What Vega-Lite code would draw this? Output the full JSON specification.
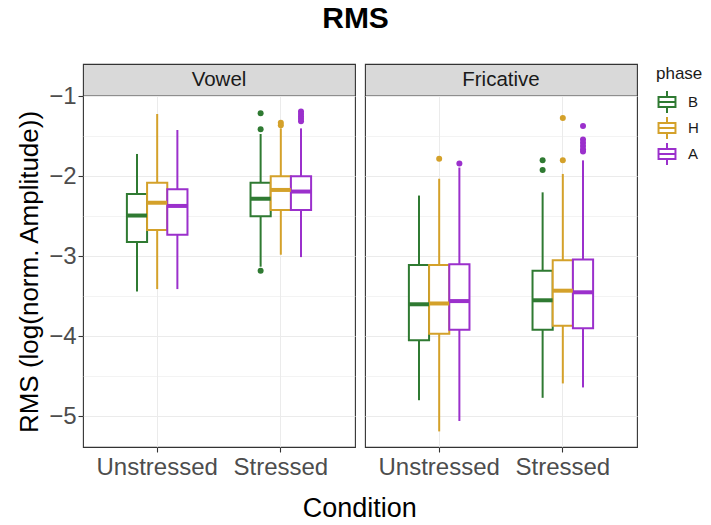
{
  "$schema": "https://vega.github.io/schema/vega-lite/v6.json",
  "background": "white",
  "padding": {"left": 16, "top": 4, "right": 0, "bottom": 5},
  "datasets": {
    "stats": [
      {"panel": "Vowel", "cond": "Unstressed", "phase": "B", "lower": -3.44, "q1": -2.82, "median": -2.49, "q3": -2.22, "upper": -1.72},
      {"panel": "Vowel", "cond": "Unstressed", "phase": "H", "lower": -3.41, "q1": -2.67, "median": -2.33, "q3": -2.08, "upper": -1.22},
      {"panel": "Vowel", "cond": "Unstressed", "phase": "A", "lower": -3.41, "q1": -2.73, "median": -2.37, "q3": -2.16, "upper": -1.42},
      {"panel": "Vowel", "cond": "Stressed", "phase": "B", "lower": -3.13, "q1": -2.50, "median": -2.28, "q3": -2.08, "upper": -1.47},
      {"panel": "Vowel", "cond": "Stressed", "phase": "H", "lower": -2.98, "q1": -2.42, "median": -2.17, "q3": -2.00, "upper": -1.40},
      {"panel": "Vowel", "cond": "Stressed", "phase": "A", "lower": -3.01, "q1": -2.42, "median": -2.19, "q3": -2.00, "upper": -1.40},
      {"panel": "Fricative", "cond": "Unstressed", "phase": "B", "lower": -4.80, "q1": -4.05, "median": -3.60, "q3": -3.11, "upper": -2.24},
      {"panel": "Fricative", "cond": "Unstressed", "phase": "H", "lower": -5.19, "q1": -3.97, "median": -3.59, "q3": -3.11, "upper": -2.03},
      {"panel": "Fricative", "cond": "Unstressed", "phase": "A", "lower": -5.06, "q1": -3.92, "median": -3.56, "q3": -3.10, "upper": -1.89},
      {"panel": "Fricative", "cond": "Stressed", "phase": "B", "lower": -4.77, "q1": -3.92, "median": -3.55, "q3": -3.18, "upper": -2.20},
      {"panel": "Fricative", "cond": "Stressed", "phase": "H", "lower": -4.59, "q1": -3.87, "median": -3.43, "q3": -3.05, "upper": -1.97},
      {"panel": "Fricative", "cond": "Stressed", "phase": "A", "lower": -4.64, "q1": -3.90, "median": -3.45, "q3": -3.04, "upper": -1.80}
    ],
    "outliers": [
      {"panel": "Vowel", "cond": "Stressed", "phase": "B", "value": -1.21},
      {"panel": "Vowel", "cond": "Stressed", "phase": "B", "value": -1.41},
      {"panel": "Vowel", "cond": "Stressed", "phase": "B", "value": -3.18},
      {"panel": "Vowel", "cond": "Stressed", "phase": "H", "value": -1.33},
      {"panel": "Vowel", "cond": "Stressed", "phase": "H", "value": -1.36},
      {"panel": "Vowel", "cond": "Stressed", "phase": "A", "value": -1.19},
      {"panel": "Vowel", "cond": "Stressed", "phase": "A", "value": -1.22},
      {"panel": "Vowel", "cond": "Stressed", "phase": "A", "value": -1.25},
      {"panel": "Vowel", "cond": "Stressed", "phase": "A", "value": -1.28},
      {"panel": "Vowel", "cond": "Stressed", "phase": "A", "value": -1.31},
      {"panel": "Fricative", "cond": "Unstressed", "phase": "H", "value": -1.78},
      {"panel": "Fricative", "cond": "Unstressed", "phase": "A", "value": -1.84},
      {"panel": "Fricative", "cond": "Stressed", "phase": "B", "value": -1.80},
      {"panel": "Fricative", "cond": "Stressed", "phase": "B", "value": -1.92},
      {"panel": "Fricative", "cond": "Stressed", "phase": "H", "value": -1.27},
      {"panel": "Fricative", "cond": "Stressed", "phase": "H", "value": -1.80},
      {"panel": "Fricative", "cond": "Stressed", "phase": "A", "value": -1.37},
      {"panel": "Fricative", "cond": "Stressed", "phase": "A", "value": -1.54},
      {"panel": "Fricative", "cond": "Stressed", "phase": "A", "value": -1.58},
      {"panel": "Fricative", "cond": "Stressed", "phase": "A", "value": -1.62},
      {"panel": "Fricative", "cond": "Stressed", "phase": "A", "value": -1.66},
      {"panel": "Fricative", "cond": "Stressed", "phase": "A", "value": -1.69}
    ]
  },
  "title": {"text": "RMS", "fontSize": 30, "fontWeight": "bold", "color": "black", "anchor": "middle", "offset": 29, "dx": -5},
  "vconcat": [
    {
      "title": {"text": "Condition", "orient": "bottom", "fontSize": 27, "fontWeight": "normal", "color": "black", "anchor": "middle", "offset": 16, "dx": 33},
      "spacing": 8,
      "hconcat": [
        {
          "spacing": 0,
          "bounds": "flush",
          "vconcat": [
            {
              "width": 272, "height": 32,
              "view": {"fill": "#D9D9D9", "stroke": "#333333", "strokeWidth": 1.1},
              "data": {"values": [{"panel": "Vowel"}]},
              "mark": {"type": "text", "fontSize": 20.5, "color": "#1A1A1A", "baseline": "middle", "align": "center"},
              "encoding": {"text": {"field": "panel"}}
            },
            {
              "width": 272, "height": 351,
              "encoding": {
                "x": {"field": "cond", "type": "nominal", "sort": ["Unstressed", "Stressed"],
                      "scale": {"paddingInner": 0.51, "paddingOuter": 0.355},
                      "axis": {"title": null, "bandPosition": 0.5, "grid": true, "labelAngle": 0}},
                "xOffset": {"field": "phase", "type": "nominal", "sort": ["B", "H", "A"], "scale": {"paddingInner": 0, "paddingOuter": 0}},
                "color": {"field": "phase", "type": "nominal", "title": "phase",
                          "scale": {"domain": ["B", "H", "A"], "range": ["#2F7A32", "#D4A12A", "#9B30CC"]}}
              },
              "layer": [
                {
                  "data": {"name": "stats"},
                  "transform": [{"filter": {"field": "panel", "equal": "Vowel"}}],
                  "layer": [
                    {"mark": {"type": "rule", "strokeWidth": 2},
                     "encoding": {"y": {"field": "lower", "type": "quantitative", "title": "RMS (log(norm. Amplitude))",
                                        "scale": {"domain": [-5.385, -0.995], "nice": false, "zero": false},
                                        "axis": {"values": [-5, -4.5, -4, -3.5, -3, -2.5, -2, -1.5, -1],
                                                 "format": "~g",
                                                 "labelExpr": "datum.value % 1 === 0 ? datum.label : ''",
                                                 "tickOpacity": {"condition": {"test": "datum.value % 1 !== 0", "value": 0}, "value": 1},
                                                 "gridWidth": {"condition": {"test": "datum.value % 1 !== 0", "value": 0.6}, "value": 1.1}}},
                                  "y2": {"field": "q1"}}},
                    {"mark": {"type": "rule", "strokeWidth": 2},
                     "encoding": {"y": {"field": "q3", "type": "quantitative"}, "y2": {"field": "upper"}}},
                    {"mark": {"type": "bar", "filled": false, "fill": "white", "strokeWidth": 2},
                     "encoding": {"y": {"field": "q1", "type": "quantitative"}, "y2": {"field": "q3"}}},
                    {"mark": {"type": "tick", "thickness": 4, "size": 20, "opacity": 1},
                     "encoding": {"y": {"field": "median", "type": "quantitative"}}}
                  ]
                },
                {
                  "data": {"name": "outliers"},
                  "transform": [{"filter": {"field": "panel", "equal": "Vowel"}}],
                  "mark": {"type": "point", "filled": true, "size": 36, "opacity": 1},
                  "encoding": {"y": {"field": "value", "type": "quantitative"}}
                }
              ]
            }
          ]
        },
        {
          "spacing": 0,
          "bounds": "flush",
          "vconcat": [
            {
              "width": 272, "height": 32,
              "view": {"fill": "#D9D9D9", "stroke": "#333333", "strokeWidth": 1.1},
              "data": {"values": [{"panel": "Fricative"}]},
              "mark": {"type": "text", "fontSize": 20.5, "color": "#1A1A1A", "baseline": "middle", "align": "center"},
              "encoding": {"text": {"field": "panel"}}
            },
            {
              "width": 272, "height": 351,
              "encoding": {
                "x": {"field": "cond", "type": "nominal", "sort": ["Unstressed", "Stressed"],
                      "scale": {"paddingInner": 0.51, "paddingOuter": 0.355},
                      "axis": {"title": null, "bandPosition": 0.5, "grid": true, "labelAngle": 0}},
                "xOffset": {"field": "phase", "type": "nominal", "sort": ["B", "H", "A"], "scale": {"paddingInner": 0, "paddingOuter": 0}},
                "color": {"field": "phase", "type": "nominal", "title": "phase",
                          "scale": {"domain": ["B", "H", "A"], "range": ["#2F7A32", "#D4A12A", "#9B30CC"]}}
              },
              "layer": [
                {
                  "data": {"name": "stats"},
                  "transform": [{"filter": {"field": "panel", "equal": "Fricative"}}],
                  "layer": [
                    {"mark": {"type": "rule", "strokeWidth": 2},
                     "encoding": {"y": {"field": "lower", "type": "quantitative", "title": null,
                                        "scale": {"domain": [-5.385, -0.995], "nice": false, "zero": false},
                                        "axis": {"values": [-5, -4.5, -4, -3.5, -3, -2.5, -2, -1.5, -1],
                                                 "labels": false, "ticks": false,
                                                 "gridWidth": {"condition": {"test": "datum.value % 1 !== 0", "value": 0.6}, "value": 1.1}}},
                                  "y2": {"field": "q1"}}},
                    {"mark": {"type": "rule", "strokeWidth": 2},
                     "encoding": {"y": {"field": "q3", "type": "quantitative"}, "y2": {"field": "upper"}}},
                    {"mark": {"type": "bar", "filled": false, "fill": "white", "strokeWidth": 2},
                     "encoding": {"y": {"field": "q1", "type": "quantitative"}, "y2": {"field": "q3"}}},
                    {"mark": {"type": "tick", "thickness": 4, "size": 20, "opacity": 1},
                     "encoding": {"y": {"field": "median", "type": "quantitative"}}}
                  ]
                },
                {
                  "data": {"name": "outliers"},
                  "transform": [{"filter": {"field": "panel", "equal": "Fricative"}}],
                  "mark": {"type": "point", "filled": true, "size": 36, "opacity": 1},
                  "encoding": {"y": {"field": "value", "type": "quantitative"}}
                }
              ]
            }
          ]
        }
      ]
    }
  ],
  "resolve": {"scale": {"color": "shared"}, "legend": {"color": "shared"}},
  "config": {
    "font": "Liberation Sans",
    "view": {"stroke": "#333333", "strokeWidth": 1.1},
    "axis": {
      "domain": false,
      "gridColor": "#EBEBEB",
      "tickColor": "#333333",
      "tickSize": 5,
      "tickWidth": 1.1,
      "labelColor": "#4D4D4D",
      "labelFontSize": 24,
      "labelPadding": 3,
      "titleFontSize": 26,
      "titleFontWeight": "normal",
      "titleColor": "black",
      "titlePadding": 6
    },
    "axisY": {"labelPadding": 2},
    "legend": {
      "titleFontSize": 17,
      "titleFontWeight": "normal",
      "titleColor": "#1A1A1A",
      "titlePadding": 8,
      "labelFontSize": 15,
      "labelColor": "#1A1A1A",
      "symbolType": "M-0.86,-0.55H0.86V0.55H-0.86ZM-0.68,-0.37V0.37H0.68V-0.37ZM-0.68,-0.09H0.68V0.09H-0.68ZM-0.09,-1H0.09V-0.55H-0.09ZM-0.09,0.55H0.09V1H-0.09Z",
      "symbolSize": 484,
      "symbolStrokeWidth": 0,
      "rowPadding": 4,
      "labelOffset": 10,
      "padding": 2,
      "offset": 16
    }
  }
}
